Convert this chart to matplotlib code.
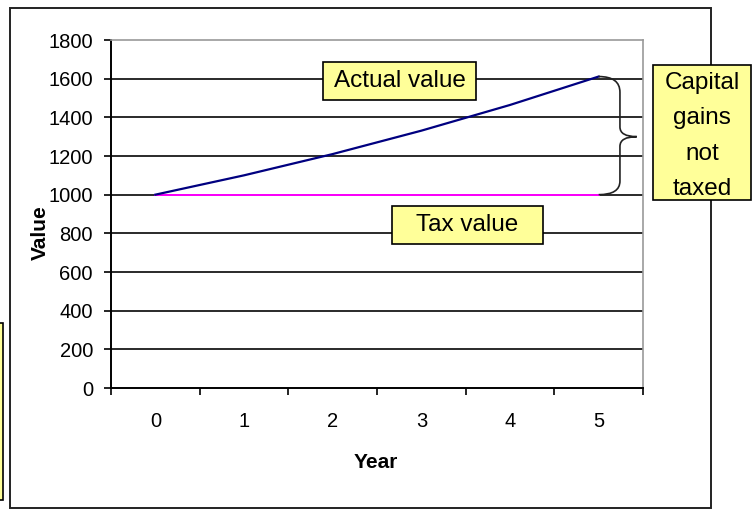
import matplotlib
matplotlib.use("Agg")
import matplotlib.pyplot as plt
from matplotlib.patches import Rectangle, PathPatch
from matplotlib.path import Path

plt.rcParams['font.family'] = ['Liberation Sans', 'DejaVu Sans']

years = [0, 1, 2, 3, 4, 5]
year_labels = ['0', '1', '2', '3', '4', '5']
actual_value = [1000, 1100, 1210, 1331, 1464, 1611]
tax_value = [1000, 1000, 1000, 1000, 1000, 1000]
y_ticks = [0, 200, 400, 600, 800, 1000, 1200, 1400, 1600, 1800]

W, H = 752, 511
fig = plt.figure(figsize=(W / 100, H / 100), dpi=100)


def fx(px):
    return px / W


def fy(py):
    return 1 - py / H


def box(x0, y0, x1, y1, z=5):
    r = Rectangle((fx(x0), fy(y1)), fx(x1) - fx(x0), fy(y0) - fy(y1),
                  transform=fig.transFigure, facecolor='#ffff99',
                  edgecolor='black', linewidth=1.2, zorder=z)
    fig.patches.append(r)


# outer chart frame
frame = Rectangle((fx(10), fy(508)), fx(711) - fx(10), fy(8) - fy(508),
                  transform=fig.transFigure, facecolor='none',
                  edgecolor='#222222', linewidth=1.4, zorder=1)
fig.patches.append(frame)

ax = fig.add_axes([fx(111), fy(388), fx(643) - fx(111), fy(40) - fy(388)])
ax.set_zorder(2)
ax.patch.set_alpha(0)

for v in y_ticks[1:-1]:
    ax.axhline(v, color='#2a2a2a', linewidth=1.4, zorder=1)

ax.plot(years, tax_value, color='#ff00ff', linewidth=1.4, zorder=3)
ax.plot(years, actual_value, color='#000080', linewidth=1.6, zorder=4)

ax.set_xlim(-0.5, 5.5)
ax.set_ylim(0, 1800)
ax.set_yticks(y_ticks)
ax.set_xticks(years)
ax.set_xticklabels(year_labels)
ax.set_xticks([i - 0.5 for i in range(7)], minor=True)
ax.tick_params(axis='x', which='major', length=0, pad=17, labelsize=14.5)
ax.tick_params(axis='x', which='minor', length=5, width=1.2, direction='out')
ax.tick_params(axis='y', length=5, width=1.2, pad=8, labelsize=14.5)

ax.spines['left'].set_color('black')
ax.spines['bottom'].set_color('black')
ax.spines['left'].set_linewidth(1.4)
ax.spines['bottom'].set_linewidth(1.4)
ax.spines['top'].set_color('#999999')
ax.spines['right'].set_color('#999999')
ax.spines['top'].set_linewidth(1.2)
ax.spines['right'].set_linewidth(1.2)

# curly brace between the two lines at year 5
bx, tip = 5.24, 5.43
verts = [(5.0, actual_value[-1]), (bx, actual_value[-1]), (bx, 1530),
         (bx, 1350), (bx, 1300), (tip, 1300), (bx, 1300), (bx, 1250),
         (bx, 1070), (bx, tax_value[-1]), (5.0, tax_value[-1])]
codes = [Path.MOVETO, Path.CURVE3, Path.CURVE3, Path.LINETO, Path.CURVE3,
         Path.CURVE3, Path.CURVE3, Path.CURVE3, Path.LINETO, Path.CURVE3,
         Path.CURVE3]
ax.add_patch(PathPatch(Path(verts, codes), facecolor='none',
                       edgecolor='#222222', linewidth=1.2, zorder=5))

fig.text(fx(40), fy(233), 'Value', rotation=90, ha='center', va='center',
         fontsize=15, fontweight='bold')
fig.text(fx(376), fy(462), 'Year', ha='center', va='center',
         fontsize=15, fontweight='bold')

# callout boxes
box(323, 62, 476, 100)
fig.text(fx(399.5), fy(81), 'Actual value', ha='center', va='center',
         fontsize=17.5, zorder=6)
box(392, 206, 543, 244)
fig.text(fx(467.5), fy(225), 'Tax value', ha='center', va='center',
         fontsize=17.5, zorder=6)
box(653, 65, 751, 200)
fig.text(fx(702), fy(136), 'Capital\ngains\nnot\ntaxed', ha='center',
         va='center', fontsize=17.5, linespacing=1.78, zorder=6)
box(-6, 323, 3, 500)

fig.savefig('out.png', dpi=100)
